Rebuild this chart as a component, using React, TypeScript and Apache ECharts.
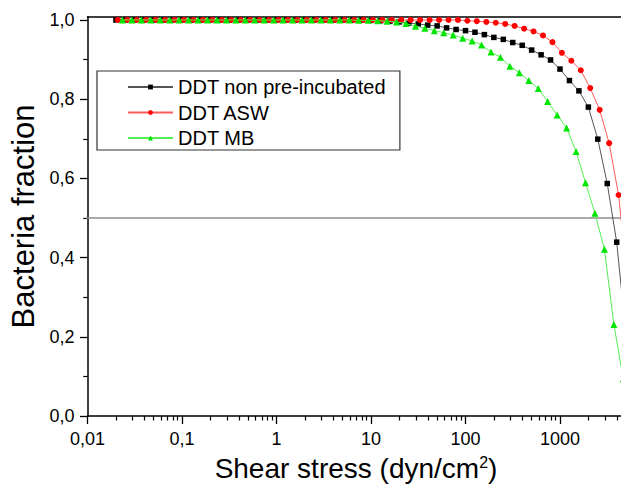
import React, { useEffect, useRef } from 'react';
import * as echarts from 'echarts';

// ---------- data ----------
const seriesNames = ['DDT non pre-incubated', 'DDT ASW', 'DDT MB'];

// DDT non pre-incubated (black squares)
const blackX = [
  0.02, 0.0251, 0.0316, 0.0398, 0.0501, 0.0631, 0.0794, 0.1, 0.1259, 0.1585,
  0.1995, 0.2512, 0.3162, 0.3981, 0.5012, 0.631, 0.7943, 1, 1.259, 1.585,
  1.995, 2.512, 3.162, 3.981, 5.012, 6.31, 7.943, 10, 12.59, 15.85,
  19.95, 25.12, 31.62, 39.81, 50.12, 63.1, 79.43, 100, 125.9, 158.5,
  199.5, 251.2, 316.2, 398.1, 501.2, 631, 794.3, 1000, 1259, 1585,
  1995, 2512, 3162, 3981, 5012,
];
const blackY = [
  1, 1, 1, 1, 1, 1, 1, 1, 1, 1,
  1, 1, 1, 1, 1, 1, 1, 1, 1, 1,
  1, 1, 1, 1, 1, 1, 1, 0.999, 0.998, 0.997,
  0.995, 0.992, 0.99, 0.987, 0.985, 0.98, 0.976, 0.973, 0.969, 0.963,
  0.956, 0.951, 0.943, 0.936, 0.924, 0.912, 0.899, 0.876, 0.847, 0.821,
  0.78, 0.699, 0.587, 0.439, 0.2,
];

// DDT ASW (red circles)
const redX = [
  0.0209, 0.0263, 0.0331, 0.0417, 0.0525, 0.0661, 0.0832, 0.1047, 0.1318, 0.166,
  0.2089, 0.263, 0.331, 0.417, 0.525, 0.661, 0.832, 1.047, 1.318, 1.66,
  2.089, 2.63, 3.31, 4.17, 5.25, 6.61, 8.32, 10.47, 13.18, 16.6,
  20.89, 26.3, 33.1, 41.7, 52.5, 66.1, 83.2, 104.7, 131.8, 166,
  208.9, 263, 331, 417, 525, 661, 832, 1047, 1318, 1660,
  2089, 2630, 3311, 4169, 5248,
];
const redY = [
  1, 1, 1, 1, 1, 1, 1, 1, 1, 1,
  1, 1, 1, 1, 1, 1, 1, 1, 1, 1,
  1, 1, 1, 1, 1, 1, 1, 1, 1, 1,
  1, 1, 1, 1, 1, 1, 1, 0.998, 0.997, 0.995,
  0.993, 0.99, 0.985, 0.978, 0.971, 0.961, 0.944, 0.917, 0.897, 0.873,
  0.828, 0.773, 0.689, 0.558, 0.33,
];

// DDT MB (green triangles)
const greenX = [
  0.0234, 0.0295, 0.0372, 0.0468, 0.0589, 0.0741, 0.0933, 0.1175, 0.1479, 0.1862,
  0.2344, 0.2951, 0.3715, 0.4677, 0.5888, 0.7413, 0.9333, 1.175, 1.479, 1.862,
  2.344, 2.951, 3.715, 4.677, 5.888, 7.413, 9.333, 11.75, 14.79, 18.62,
  23.44, 29.51, 37.15, 46.77, 58.88, 74.13, 93.33, 117.5, 147.9, 186.2,
  234.4, 295.1, 371.5, 467.7, 588.8, 741.3, 933.3, 1175, 1479, 1862,
  2344, 2951, 3715, 4677,
];
const greenY = [
  1, 1, 1, 1, 1, 1, 1, 1, 1, 1,
  1, 1, 1, 1, 1, 1, 1, 1, 1, 1,
  1, 1, 1, 1, 1, 0.999, 0.999, 0.998, 0.997, 0.995,
  0.991, 0.984, 0.979, 0.973, 0.968, 0.962, 0.954, 0.947, 0.937, 0.919,
  0.906, 0.883, 0.867, 0.847, 0.827, 0.794, 0.76, 0.727, 0.668, 0.589,
  0.512, 0.421, 0.231, 0.094,
];

// axes
const xMin = 0.01;
const xMax = 10000;
const xMajorTicks = [0.01, 0.1, 1, 10, 100, 1000, 10000];
const xLabelValues = [0.01, 0.1, 1, 10, 100, 1000];
const xMinorTicks = [
  0.02, 0.03, 0.04, 0.05, 0.06, 0.07, 0.08, 0.09,
  0.2, 0.3, 0.4, 0.5, 0.6, 0.7, 0.8, 0.9,
  2, 3, 4, 5, 6, 7, 8, 9,
  20, 30, 40, 50, 60, 70, 80, 90,
  200, 300, 400, 500, 600, 700, 800, 900,
  2000, 3000, 4000, 5000, 6000, 7000, 8000, 9000,
];
const yMin = 0;
const yMax = 1.008;
const yMajorTicks = [0, 0.2, 0.4, 0.6, 0.8, 1.0];
const yMinorTicks = [0.1, 0.3, 0.5, 0.7, 0.9];
const halfLevel = 0.5;
const halfLineX = [0.0001, 100000];

// ---------- styling ----------
const FONT = "'Liberation Sans', Arial, Helvetica, sans-serif";

const pair = (xs: number[], ys: number[]) => xs.map((x, i) => [x, ys[i]]);
const fmtX = (v: number) => String(Number(Number(v).toPrecision(6))).replace('.', ',');
const fmtY = (v: number) => Number(v).toFixed(1).replace('.', ',');

const axisLineStyle = { color: '#000', width: 1.5 };

const option: any = {
  animation: false,
  backgroundColor: '#ffffff',
  textStyle: { fontFamily: FONT },
  grid: {
    left: 87.5,
    width: 567,
    top: 16.8,
    bottom: 72,
    containLabel: false,
    outerBoundsMode: 'none',
  },
  legend: {
    data: seriesNames,
    orient: 'vertical',
    left: 97,
    top: 71,
    itemWidth: 45,
    itemHeight: 6,
    itemGap: 5.5,
    padding: [6, 14, 2, 30],
    borderColor: '#333',
    borderWidth: 1.2,
    backgroundColor: '#fff',
    textStyle: { fontFamily: FONT, fontSize: 20, lineHeight: 19.5, color: '#000' },
  },
  xAxis: [
    {
      type: 'log',
      min: xMin,
      max: xMax,
      position: 'bottom',
      name: 'Shear stress (dyn/cm{sup|2})',
      nameLocation: 'middle',
      nameGap: 38,
      nameTextStyle: {
        fontFamily: FONT,
        fontSize: 28,
        color: '#000',
        padding: [0, 30, 0, 0],
        rich: {
          sup: { fontFamily: FONT, fontSize: 16, color: '#000', verticalAlign: 'top', lineHeight: 28 },
        },
      },
      axisLine: { show: true, onZero: false, lineStyle: axisLineStyle },
      axisTick: { show: true, customValues: xMajorTicks, length: 8, lineStyle: { color: '#000', width: 1.3 } },
      axisLabel: {
        show: true,
        customValues: xLabelValues,
        formatter: fmtX,
        fontFamily: FONT,
        fontSize: 18,
        color: '#000',
        margin: 14,
      },
      splitLine: { show: false },
    },
    {
      type: 'log',
      min: xMin,
      max: xMax,
      position: 'bottom',
      axisLine: { show: false, onZero: false },
      axisTick: { show: true, customValues: xMinorTicks, length: 4.5, lineStyle: { color: '#000', width: 1.2 } },
      axisLabel: { show: false },
      splitLine: { show: false },
    },
    {
      type: 'log',
      min: xMin,
      max: xMax,
      position: 'top',
      axisLine: { show: true, onZero: false, lineStyle: axisLineStyle },
      axisTick: { show: false },
      axisLabel: { show: false },
      splitLine: { show: false },
    },
  ],
  yAxis: [
    {
      type: 'value',
      min: yMin,
      max: yMax,
      position: 'left',
      name: 'Bacteria fraction',
      nameLocation: 'middle',
      nameGap: 47,
      nameTextStyle: { fontFamily: FONT, fontSize: 31, color: '#000' },
      axisLine: { show: true, onZero: false, lineStyle: axisLineStyle },
      axisTick: { show: true, customValues: yMajorTicks, length: 7.5, lineStyle: { color: '#000', width: 1.3 } },
      axisLabel: {
        show: true,
        customValues: yMajorTicks,
        formatter: fmtY,
        fontFamily: FONT,
        fontSize: 18,
        color: '#000',
        margin: 13,
      },
      splitLine: { show: false },
    },
    {
      type: 'value',
      min: yMin,
      max: yMax,
      position: 'left',
      axisLine: { show: false, onZero: false },
      axisTick: { show: true, customValues: yMinorTicks, length: 4.3, lineStyle: { color: '#000', width: 1.2 } },
      axisLabel: { show: false },
      splitLine: { show: false },
    },
  ],
  series: [
    {
      name: 'half',
      type: 'line',
      xAxisIndex: 0,
      yAxisIndex: 0,
      data: halfLineX.map((x) => [x, halfLevel]),
      symbol: 'none',
      clip: false,
      silent: true,
      lineStyle: { color: '#8c8c8c', width: 1.3 },
      z: 1,
    },
    {
      name: seriesNames[0],
      type: 'line',
      xAxisIndex: 0,
      yAxisIndex: 0,
      data: pair(blackX, blackY),
      symbol: 'rect',
      symbolSize: 5.5,
      itemStyle: { color: '#000000' },
      lineStyle: { color: '#555555', width: 1 },
      z: 2,
    },
    {
      name: seriesNames[1],
      type: 'line',
      xAxisIndex: 0,
      yAxisIndex: 0,
      data: pair(redX, redY),
      symbol: 'circle',
      symbolSize: 6,
      itemStyle: { color: '#ff0000' },
      lineStyle: { color: '#ff5a5a', width: 1 },
      z: 3,
    },
    {
      name: seriesNames[2],
      type: 'line',
      xAxisIndex: 0,
      yAxisIndex: 0,
      data: pair(greenX, greenY),
      symbol: 'triangle',
      symbolSize: 7,
      itemStyle: { color: '#00e600' },
      lineStyle: { color: '#55ee55', width: 1 },
      z: 4,
    },
  ],
};

export default function App() {
  const ref = useRef<HTMLDivElement>(null);
  useEffect(() => {
    if (!ref.current) return;
    const chart = echarts.init(ref.current, null, { renderer: 'svg' });
    chart.setOption(option);
    return () => chart.dispose();
  }, []);
  return (
    <div
      ref={ref}
      style={{ position: 'fixed', left: 0, top: 0, width: 621, height: 488, background: '#fff', overflow: 'hidden' }}
    />
  );
}
